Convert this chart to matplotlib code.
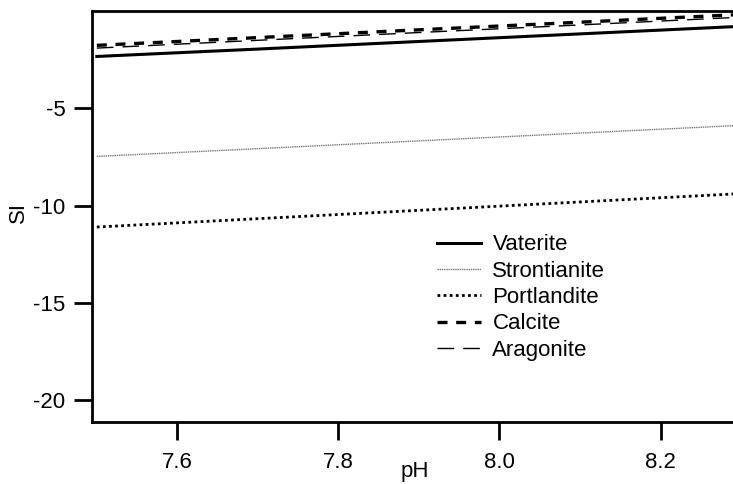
import numpy as np
import matplotlib
matplotlib.use('Agg')
from matplotlib import pyplot as plt

plt.rcParams['font.family'] = ['Liberation Sans', 'DejaVu Sans']
plt.rcParams['axes.unicode_minus'] = False

# SI at a few pH values
ph = [7.5, 7.7, 7.9, 8.1, 8.3]
vaterite = [-2.33, -1.95, -1.56, -1.17, -0.78]
strontianite = [-7.47, -7.07, -6.67, -6.27, -5.87]
portlandite = [-11.10, -10.67, -10.24, -9.81, -9.38]
calcite = [-1.76, -1.36, -0.96, -0.57, -0.17]
aragonite = [-1.90, -1.50, -1.10, -0.71, -0.31]

xticks = [7.6, 7.8, 8.0, 8.2]
yticks = [-5, -10, -15, -20]

fig = plt.figure(figsize=(7.33, 4.84), dpi=100)
ax = fig.add_axes([0.1255, 0.129, 0.8745, 0.848])

ax.plot(ph, vaterite, color='black', lw=2.2, label='Vaterite')
ax.plot(ph, strontianite, color='#777777', lw=1.0, ls=(0, (1, 0.6)), label='Strontianite')
ax.plot(ph, portlandite, color='black', lw=2.0, ls=(0, (1, 1.2)), label='Portlandite')
ax.plot(ph, calcite, color='black', lw=2.4, ls=(0, (3.0, 2.6)), label='Calcite')
ax.plot(ph, aragonite, color='black', lw=1.0, ls=(0, (12, 6.5)), label='Aragonite')

ax.set_xlim(7.494, 8.29)
ax.set_ylim(-21.1, 0)
ax.set_xticks(xticks)
ax.set_xticklabels(['7.6', '7.8', '8.0', '8.2'])
ax.set_yticks(yticks)
ax.spines['right'].set_visible(False)
for s in ['left', 'bottom', 'top']:
    ax.spines[s].set_linewidth(2.0)
ax.tick_params(direction='out', length=13, width=2.0, labelsize=16)
ax.tick_params(axis='x', pad=9)
ax.tick_params(axis='y', pad=6)

ax.set_xlabel('pH', fontsize=16)
ax.xaxis.set_label_coords(0.504, -0.097)
ax.set_ylabel('SI', fontsize=16)
ax.yaxis.set_label_coords(-0.098, 0.51)

leg = ax.legend(loc='center left', bbox_to_anchor=(0.538, 0.302), frameon=False,
                fontsize=16, handlelength=2.0, handletextpad=0.5,
                labelspacing=0.24, borderpad=0, borderaxespad=0)

fig.savefig('out.png', dpi=100)
